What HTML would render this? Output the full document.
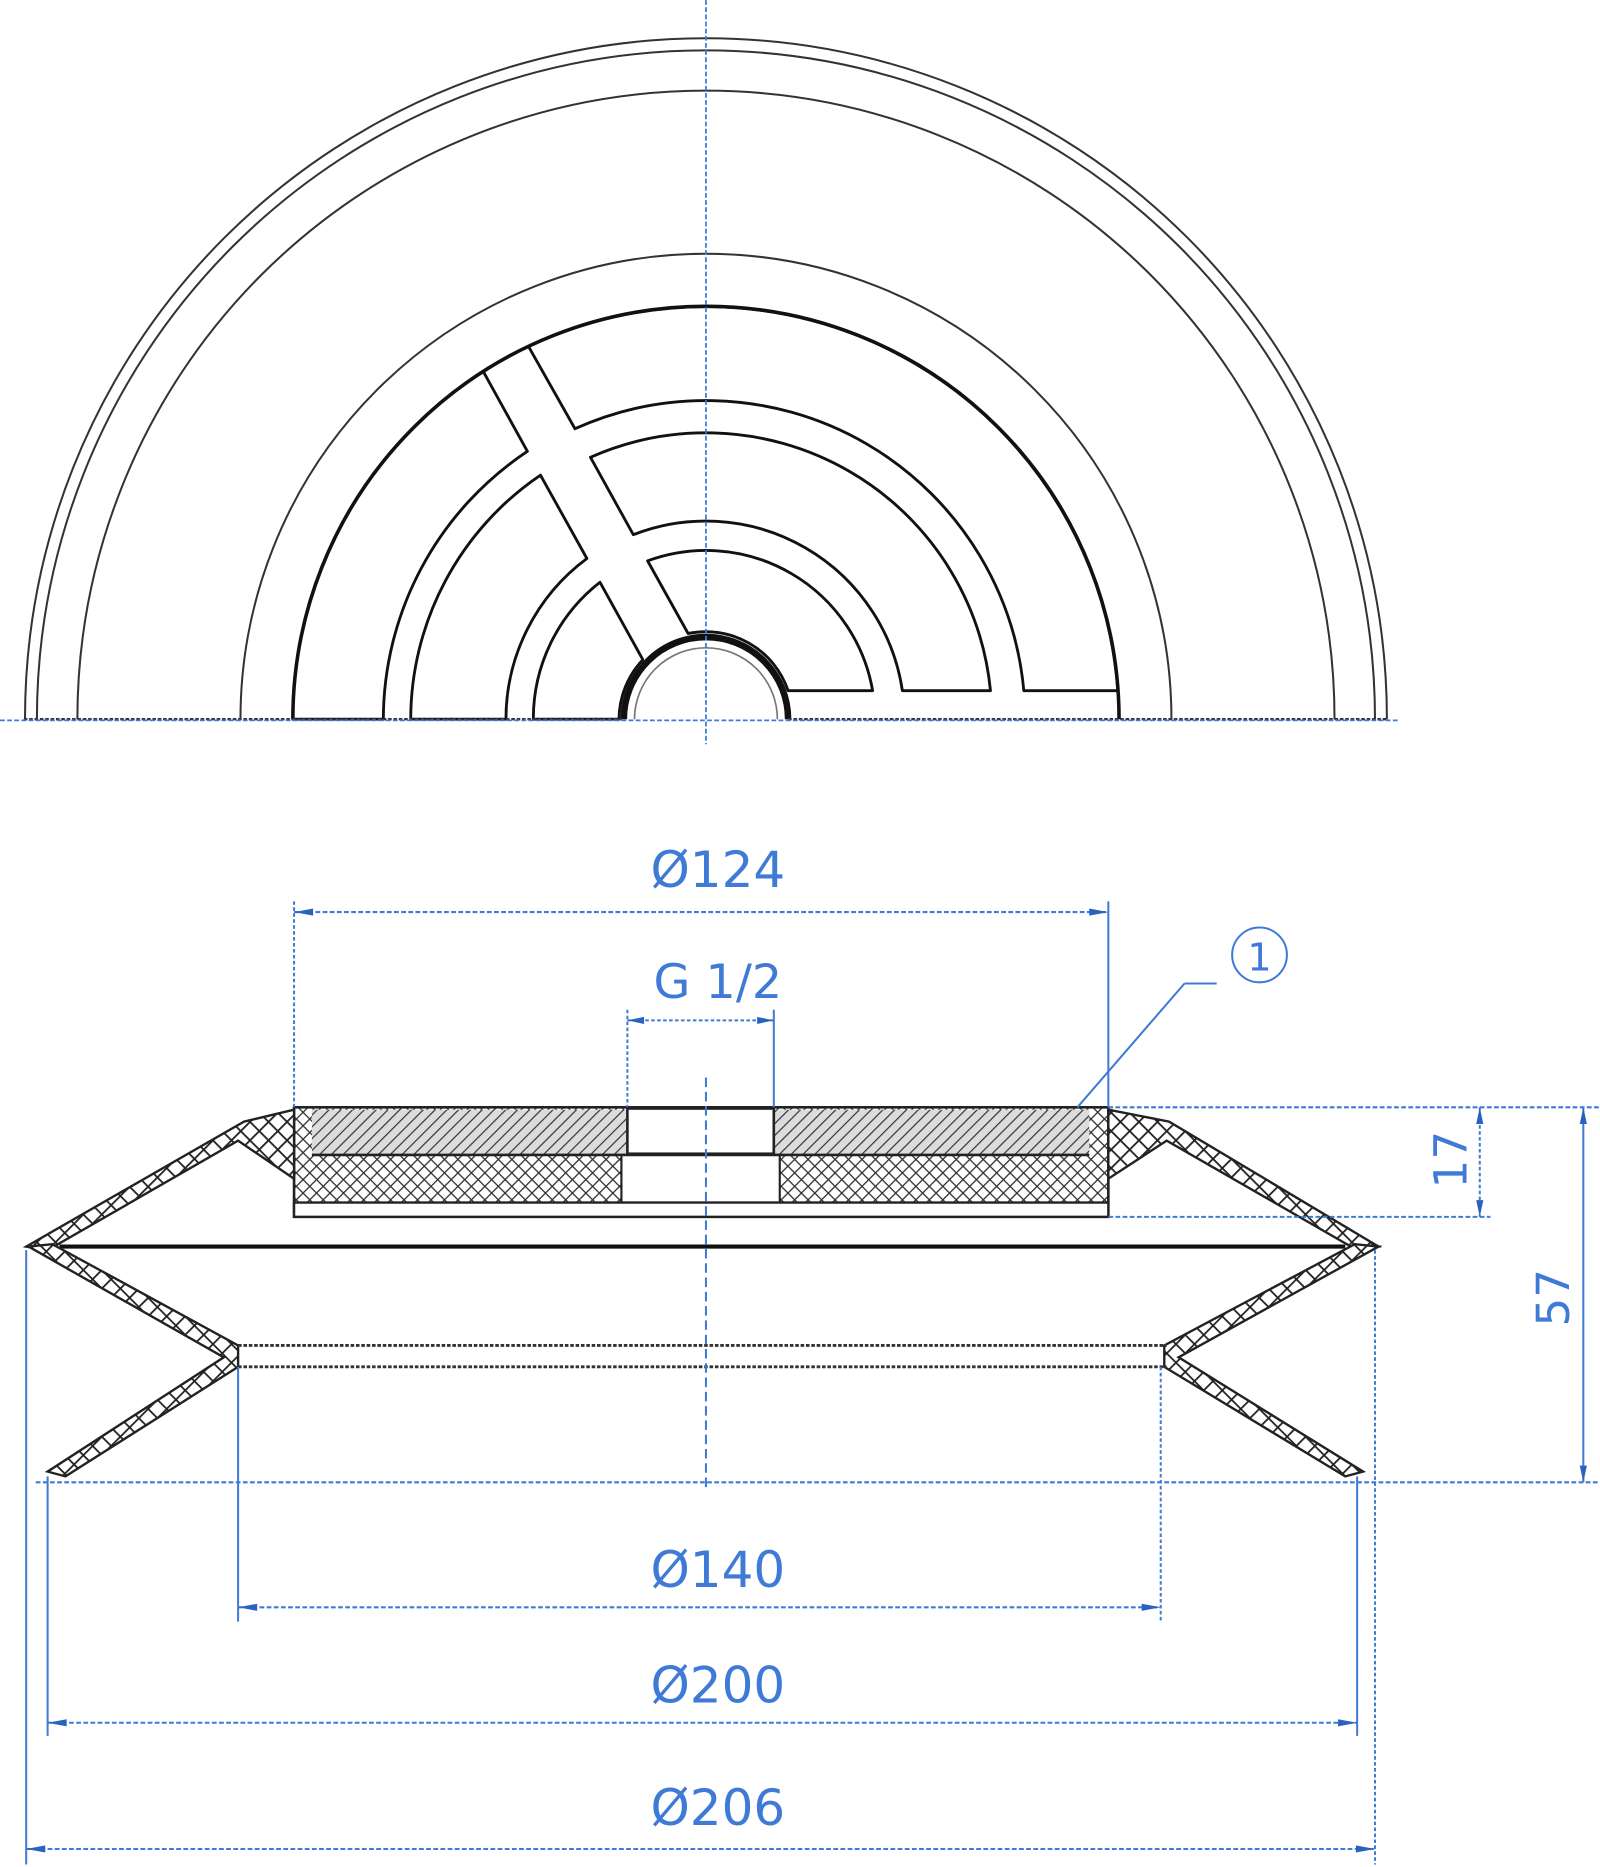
<!DOCTYPE html>
<html><head><meta charset="utf-8"><style>
html,body{margin:0;padding:0;background:#fff;}
svg{display:block;}
text{font-family:"DejaVu Sans","Liberation Sans",sans-serif;fill:#3f7ad6;}
</style></head><body>
<svg width="1600" height="1867" viewBox="0 0 1344 1568" xmlns="http://www.w3.org/2000/svg">
<defs>
<pattern id="h1" width="7" height="7" patternUnits="userSpaceOnUse" patternTransform="rotate(45)">
<rect width="7" height="7" fill="#dcdcdc"/><line x1="0" y1="0" x2="0" y2="7" stroke="#333" stroke-width="2"/></pattern>
<pattern id="h2" width="11" height="11" patternUnits="userSpaceOnUse" patternTransform="rotate(45)">
<rect width="11" height="11" fill="#fff"/><line x1="0" y1="0" x2="0" y2="11" stroke="#222" stroke-width="3"/><line x1="0" y1="0" x2="11" y2="0" stroke="#222" stroke-width="3"/></pattern>
<pattern id="h3" width="8" height="8" patternUnits="userSpaceOnUse" patternTransform="rotate(45)">
<rect width="8" height="8" fill="#fff"/><line x1="0" y1="0" x2="0" y2="8" stroke="#333" stroke-width="2.2"/><line x1="0" y1="0" x2="8" y2="0" stroke="#333" stroke-width="2.2"/></pattern>
</defs>

<!-- TOP VIEW -->
<g fill="none" stroke="#333" stroke-width="1.7">
<path d="M21,604 A572,572 0 0 1 1165,604"/>
<path d="M31,604 A562,562 0 0 1 1155,604"/>
<path d="M65,604 A528,528 0 0 1 1121,604"/>
<path d="M202,604 A391,391 0 0 1 984,604"/>
</g>
<path d="M246,604 A347,347 0 0 1 940,604" fill="none" stroke="#111" stroke-width="3"/>
<g fill="none" stroke="#111" stroke-width="2.4" stroke-linejoin="round">
<path d="M246,604 A347,347 0 0 1 406,312 L443,379 A271,271 0 0 0 322,604 Z"/>
<path d="M444,291 A347,347 0 0 1 939,580 L860,580 A268,268 0 0 0 483,360 Z"/>
<path d="M345,604 A248,248 0 0 1 454,399 L493,469 A168,168 0 0 0 425,604 Z"/>
<path d="M496,384 A240,240 0 0 1 832,580 L758,580 A167,167 0 0 0 532,449 Z"/>
<path d="M448,604 A145,145 0 0 1 504,489 L540,554 A73,73 0 0 0 520,604 Z"/>
<path d="M544,471 A142,142 0 0 1 733,580 L662,580 A73,73 0 0 0 578,532 Z"/>
</g>
<path d="M524,604 A69,69 0 0 1 662,604" fill="none" stroke="#111" stroke-width="5.5"/>
<path d="M533,604 A60,60 0 0 1 653,604" fill="none" stroke="#777" stroke-width="1.4"/>
<line x1="20" y1="604" x2="522" y2="604" stroke="#333" stroke-width="2" stroke-dasharray="3 1.5"/>
<line x1="662" y1="604" x2="1165" y2="604" stroke="#333" stroke-width="2" stroke-dasharray="3 1.5"/>
<g stroke="#3f7ad6" stroke-width="1.5" stroke-dasharray="4 2" fill="none">
<line x1="0" y1="605" x2="1175" y2="605"/>
<line x1="593" y1="0" x2="593" y2="625"/>
</g>

<!-- SIDE VIEW -->
<rect x="247" y="930" width="684" height="92" fill="url(#h3)" stroke="#222" stroke-width="2.2"/>
<rect x="262" y="932" width="265" height="38" fill="url(#h1)"/>
<rect x="650" y="932" width="265" height="38" fill="url(#h1)"/>
<rect x="527" y="931" width="123" height="38" fill="#fff" stroke="#222" stroke-width="2.2"/>
<rect x="522" y="970" width="133" height="40" fill="#fff" stroke="#222" stroke-width="1.8"/>
<rect x="247" y="1010" width="684" height="12" fill="#fff" stroke="#222" stroke-width="2"/>
<line x1="262" y1="970" x2="915" y2="970" stroke="#222" stroke-width="2.2"/>
<path d="M247,932 L205,942 L22,1047 L40,1050 L200,958 L247,990 Z" fill="url(#h2)" stroke="#222" stroke-width="2"/>
<path d="M931,932 L982,942 L1158,1047 L1140,1050 L980,958 L931,990 Z" fill="url(#h2)" stroke="#222" stroke-width="2"/>
<line x1="50" y1="1047" x2="1130" y2="1047" stroke="#111" stroke-width="3.5"/>
<path d="M24,1047 L44,1045 L200,1130 L200,1148 L55,1240 L40,1236 L188,1140 Z" fill="url(#h2)" stroke="#222" stroke-width="2"/>
<path d="M1158,1047 L1138,1045 L978,1130 L978,1148 L1130,1240 L1145,1236 L990,1140 Z" fill="url(#h2)" stroke="#222" stroke-width="2"/>
<line x1="200" y1="1130" x2="980" y2="1130" stroke="#333" stroke-width="2.4" stroke-dasharray="3 1.5"/>
<line x1="200" y1="1148" x2="980" y2="1148" stroke="#333" stroke-width="2.4" stroke-dasharray="3 1.5"/>

<g stroke="#3f7ad6" stroke-width="1.7" fill="none">
<line x1="593" y1="905" x2="593" y2="1252" stroke-dasharray="8 4"/>
<line x1="247" y1="757" x2="247" y2="930" stroke-dasharray="3 2"/>
<line x1="931" y1="757" x2="931" y2="930"/>
<line x1="247" y1="766" x2="931" y2="766" stroke-dasharray="4 2"/>
<line x1="527" y1="848" x2="527" y2="930" stroke-dasharray="3 2"/>
<line x1="650" y1="848" x2="650" y2="930"/>
<line x1="527" y1="857" x2="650" y2="857" stroke-dasharray="3 2"/>
<line x1="931" y1="930" x2="1344" y2="930" stroke-dasharray="4 2"/>
<line x1="931" y1="1022" x2="1252" y2="1022" stroke-dasharray="4 2"/>
<line x1="1243" y1="930" x2="1243" y2="1022" stroke-dasharray="3 2"/>
<line x1="1330" y1="930" x2="1330" y2="1245"/>
<line x1="30" y1="1245" x2="1344" y2="1245" stroke-dasharray="4 2"/>
<line x1="200" y1="1148" x2="200" y2="1362"/>
<line x1="975" y1="1148" x2="975" y2="1362" stroke-dasharray="3 2"/>
<line x1="200" y1="1350" x2="975" y2="1350" stroke-dasharray="4 2"/>
<line x1="40" y1="1240" x2="40" y2="1458"/>
<line x1="1140" y1="1240" x2="1140" y2="1458"/>
<line x1="40" y1="1447" x2="1140" y2="1447" stroke-dasharray="4 2"/>
<line x1="22" y1="1050" x2="22" y2="1566"/>
<line x1="1155" y1="1050" x2="1155" y2="1566" stroke-dasharray="3 2"/>
<line x1="22" y1="1553" x2="1155" y2="1553" stroke-dasharray="4 2"/>
<line x1="905" y1="930" x2="995" y2="826"/>
<line x1="995" y1="826" x2="1022" y2="826"/>
<circle cx="1058" cy="802" r="23"/>
</g>
<g fill="#2a62c0">
<path d="M247,766 l16,-3 v6 z"/><path d="M931,766 l-16,-3 v6 z"/>
<path d="M527,857 l14,-3 v6 z"/><path d="M650,857 l-14,-3 v6 z"/>
<path d="M1243,930 l-3,14 h6 z"/><path d="M1243,1022 l-3,-14 h6 z"/>
<path d="M1330,930 l-3,14 h6 z"/><path d="M1330,1245 l-3,-14 h6 z"/>
<path d="M200,1350 l16,-3 v6 z"/><path d="M975,1350 l-16,-3 v6 z"/>
<path d="M40,1447 l16,-3 v6 z"/><path d="M1140,1447 l-16,-3 v6 z"/>
<path d="M22,1553 l16,-3 v6 z"/><path d="M1155,1553 l-16,-3 v6 z"/>
</g>
<g font-size="42" text-anchor="middle">
<text x="603" y="745">Ø124</text>
<text x="603" y="838" font-size="40">G 1/2</text>
<text x="603" y="1333">Ø140</text>
<text x="603" y="1430">Ø200</text>
<text x="603" y="1533">Ø206</text>
<text x="1058" y="815" font-size="32">1</text>
<text transform="translate(1232,974) rotate(-90)" font-size="38">17</text>
<text transform="translate(1318,1090) rotate(-90)" font-size="38">57</text>
</g>
</svg>
</body></html>
